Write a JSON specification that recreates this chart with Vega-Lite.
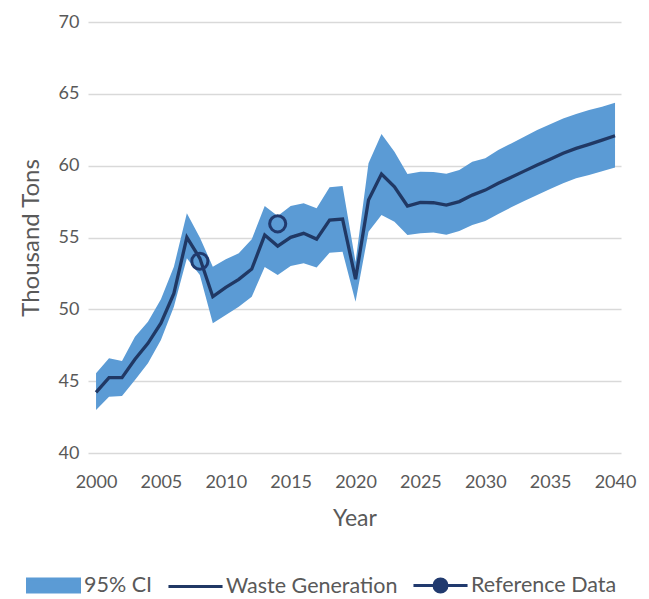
{
  "$schema": "https://vega.github.io/schema/vega-lite/v6.json",
  "width": 533,
  "height": 431,
  "autosize": {"type": "none"},
  "padding": {"left": 88, "top": 22, "right": 28, "bottom": 146},
  "background": "white",
  "config": {
    "view": {"stroke": null},
    "font": "Lato",
    "axis": {"labelFont": "Lato", "titleFont": "Lato", "labelColor": "#595959", "titleColor": "#595959", "titleFontWeight": "normal"},
    "legend": {"labelFont": "Lato"}
  },
  "datasets": {
    "band": [
      {"series": "95% CI", "year": 2000, "lower": 43.0, "upper": 45.55},
      {"series": "95% CI", "year": 2001, "lower": 43.92, "upper": 46.59},
      {"series": "95% CI", "year": 2002, "lower": 43.97, "upper": 46.4},
      {"series": "95% CI", "year": 2003, "lower": 45.08, "upper": 48.09},
      {"series": "95% CI", "year": 2004, "lower": 46.24, "upper": 49.14},
      {"series": "95% CI", "year": 2005, "lower": 47.86, "upper": 50.7},
      {"series": "95% CI", "year": 2006, "lower": 50.18, "upper": 52.97},
      {"series": "95% CI", "year": 2007, "lower": 53.55, "upper": 56.68},
      {"series": "95% CI", "year": 2008, "lower": 52.39, "upper": 55.0},
      {"series": "95% CI", "year": 2009, "lower": 49.03, "upper": 52.97},
      {"series": "95% CI", "year": 2010, "lower": 49.6, "upper": 53.48},
      {"series": "95% CI", "year": 2011, "lower": 50.18, "upper": 53.9},
      {"series": "95% CI", "year": 2012, "lower": 50.88, "upper": 54.87},
      {"series": "95% CI", "year": 2013, "lower": 52.95, "upper": 57.19},
      {"series": "95% CI", "year": 2014, "lower": 52.39, "upper": 56.5},
      {"series": "95% CI", "year": 2015, "lower": 53.01, "upper": 57.19},
      {"series": "95% CI", "year": 2016, "lower": 53.2, "upper": 57.38},
      {"series": "95% CI", "year": 2017, "lower": 52.92, "upper": 57.03},
      {"series": "95% CI", "year": 2018, "lower": 53.94, "upper": 58.49},
      {"series": "95% CI", "year": 2019, "lower": 54.01, "upper": 58.58},
      {"series": "95% CI", "year": 2020, "lower": 50.53, "upper": 53.3},
      {"series": "95% CI", "year": 2021, "lower": 55.4, "upper": 60.16},
      {"series": "95% CI", "year": 2022, "lower": 56.56, "upper": 62.2},
      {"series": "95% CI", "year": 2023, "lower": 56.1, "upper": 60.97},
      {"series": "95% CI", "year": 2024, "lower": 55.17, "upper": 59.42},
      {"series": "95% CI", "year": 2025, "lower": 55.29, "upper": 59.58},
      {"series": "95% CI", "year": 2026, "lower": 55.35, "upper": 59.56},
      {"series": "95% CI", "year": 2027, "lower": 55.2, "upper": 59.44},
      {"series": "95% CI", "year": 2028, "lower": 55.45, "upper": 59.69},
      {"series": "95% CI", "year": 2029, "lower": 55.87, "upper": 60.27},
      {"series": "95% CI", "year": 2030, "lower": 56.15, "upper": 60.51},
      {"series": "95% CI", "year": 2031, "lower": 56.63, "upper": 61.09},
      {"series": "95% CI", "year": 2032, "lower": 57.1, "upper": 61.55},
      {"series": "95% CI", "year": 2033, "lower": 57.54, "upper": 62.01},
      {"series": "95% CI", "year": 2034, "lower": 57.95, "upper": 62.48},
      {"series": "95% CI", "year": 2035, "lower": 58.37, "upper": 62.89},
      {"series": "95% CI", "year": 2036, "lower": 58.77, "upper": 63.29},
      {"series": "95% CI", "year": 2037, "lower": 59.12, "upper": 63.59},
      {"series": "95% CI", "year": 2038, "lower": 59.35, "upper": 63.87},
      {"series": "95% CI", "year": 2039, "lower": 59.62, "upper": 64.1},
      {"series": "95% CI", "year": 2040, "lower": 59.88, "upper": 64.38}
    ],
    "line": [
      {"series": "Waste Generation", "year": 2000, "value": 44.22},
      {"series": "Waste Generation", "year": 2001, "value": 45.24},
      {"series": "Waste Generation", "year": 2002, "value": 45.24},
      {"series": "Waste Generation", "year": 2003, "value": 46.52},
      {"series": "Waste Generation", "year": 2004, "value": 47.63},
      {"series": "Waste Generation", "year": 2005, "value": 49.03},
      {"series": "Waste Generation", "year": 2006, "value": 51.11},
      {"series": "Waste Generation", "year": 2007, "value": 55.01},
      {"series": "Waste Generation", "year": 2008, "value": 53.55},
      {"series": "Waste Generation", "year": 2009, "value": 50.88},
      {"series": "Waste Generation", "year": 2010, "value": 51.53},
      {"series": "Waste Generation", "year": 2011, "value": 52.09},
      {"series": "Waste Generation", "year": 2012, "value": 52.8},
      {"series": "Waste Generation", "year": 2013, "value": 55.17},
      {"series": "Waste Generation", "year": 2014, "value": 54.4},
      {"series": "Waste Generation", "year": 2015, "value": 55.01},
      {"series": "Waste Generation", "year": 2016, "value": 55.29},
      {"series": "Waste Generation", "year": 2017, "value": 54.89},
      {"series": "Waste Generation", "year": 2018, "value": 56.21},
      {"series": "Waste Generation", "year": 2019, "value": 56.28},
      {"series": "Waste Generation", "year": 2020, "value": 52.1},
      {"series": "Waste Generation", "year": 2021, "value": 57.61},
      {"series": "Waste Generation", "year": 2022, "value": 59.42},
      {"series": "Waste Generation", "year": 2023, "value": 58.53},
      {"series": "Waste Generation", "year": 2024, "value": 57.19},
      {"series": "Waste Generation", "year": 2025, "value": 57.45},
      {"series": "Waste Generation", "year": 2026, "value": 57.42},
      {"series": "Waste Generation", "year": 2027, "value": 57.26},
      {"series": "Waste Generation", "year": 2028, "value": 57.5},
      {"series": "Waste Generation", "year": 2029, "value": 57.95},
      {"series": "Waste Generation", "year": 2030, "value": 58.3},
      {"series": "Waste Generation", "year": 2031, "value": 58.77},
      {"series": "Waste Generation", "year": 2032, "value": 59.19},
      {"series": "Waste Generation", "year": 2033, "value": 59.62},
      {"series": "Waste Generation", "year": 2034, "value": 60.04},
      {"series": "Waste Generation", "year": 2035, "value": 60.44},
      {"series": "Waste Generation", "year": 2036, "value": 60.86},
      {"series": "Waste Generation", "year": 2037, "value": 61.2},
      {"series": "Waste Generation", "year": 2038, "value": 61.48},
      {"series": "Waste Generation", "year": 2039, "value": 61.78},
      {"series": "Waste Generation", "year": 2040, "value": 62.08}
    ],
    "ref": [
      {"series": "Reference Data", "year": 2008, "value": 53.35},
      {"series": "Reference Data", "year": 2014, "value": 55.95}
    ]
  },
  "encoding": {
    "x": {
      "field": "year", "type": "quantitative",
      "scale": {"domain": [1999.38, 2040.46], "nice": false, "zero": false},
      "axis": {
        "title": "Year", "values": [2000, 2005, 2010, 2015, 2020, 2025, 2030, 2035, 2040], "format": "d",
        "grid": false, "domain": false, "ticks": false,
        "labelFontSize": 18, "labelPadding": 20, "titleFontSize": 23, "titlePadding": 16
      }
    },
    "color": {
      "field": "series", "type": "nominal",
      "scale": {"domain": ["95% CI", "Waste Generation", "Reference Data"], "range": ["#5B9BD5", "#203864", "#213A6E"]},
      "legend": {
        "orient": "none", "legendX": -62, "legendY": 536, "direction": "horizontal",
        "title": null, "padding": 0, "symbolSize": 2704, "labelFontSize": 21.5, "labelColor": "#595959",
        "labelOffset": 3, "columnPadding": 9, "labelLimit": 400,
        "encode": {
          "symbols": {
            "update": {
              "shape": {"signal": "datum.value === '95% CI' ? 'M-1,-0.25H1V0.25H-1Z' : (datum.value === 'Waste Generation' ? 'M-1.04,0H1.04' : 'M-1.04,0H1.04M-0.25,0A0.25,0.25,0,1,0,0.25,0A0.25,0.25,0,1,0,-0.25,0Z')"},
              "fill": {"signal": "datum.value === '95% CI' ? '#5B9BD5' : (datum.value === 'Waste Generation' ? 'transparent' : '#264478')"},
              "stroke": {"signal": "datum.value === '95% CI' ? 'transparent' : (datum.value === 'Waste Generation' ? '#203864' : '#264478')"},
              "strokeWidth": {"value": 3},
              "opacity": {"value": 1},
              "fillOpacity": {"value": 1},
              "strokeOpacity": {"value": 1}
            }
          }
        }
      }
    }
  },
  "layer": [
    {
      "data": {"name": "band"},
      "mark": {"type": "area", "opacity": 1},
      "encoding": {
        "y": {
          "field": "lower", "type": "quantitative",
          "scale": {"domain": [40, 70], "nice": false, "zero": false},
          "axis": {
            "title": "Thousand Tons", "values": [40, 45, 50, 55, 60, 65, 70],
            "grid": true, "gridColor": "#D9D9D9", "gridWidth": 1.3,
            "domain": false, "ticks": false,
            "labelFontSize": 18, "labelPadding": 9, "titleFontSize": 24, "titlePadding": 15
          }
        },
        "y2": {"field": "upper"}
      }
    },
    {
      "data": {"name": "line"},
      "mark": {"type": "line", "strokeWidth": 3.3},
      "encoding": {
        "y": {"field": "value", "type": "quantitative"}
      }
    },
    {
      "data": {"name": "ref"},
      "mark": {"type": "point", "shape": "circle", "filled": false, "size": 260, "strokeWidth": 3, "opacity": 1},
      "encoding": {
        "y": {"field": "value", "type": "quantitative"}
      }
    }
  ]
}
